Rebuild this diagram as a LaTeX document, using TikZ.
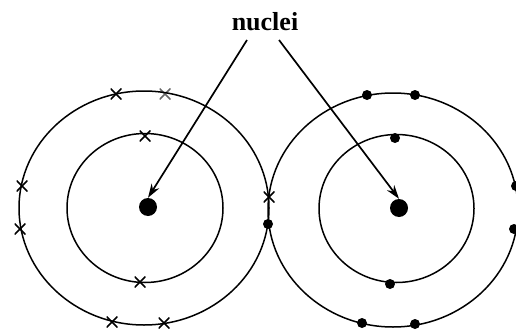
\documentclass[tikz,border=0pt]{standalone}
\usepackage{fontspec}
\setmainfont{Liberation Serif}
\usetikzlibrary{arrows.meta}
\tikzset{
  orbit/.style={draw, line width=1.5pt},
  nucleus/.style={circle, fill=black, inner sep=0pt, minimum size=18pt},
  edot/.style={circle, fill=black, inner sep=0pt, minimum size=10pt},
  ecross/.style={draw=none, inner sep=0pt, minimum size=11pt, path picture={
     \draw[line width=1.7pt] (path picture bounding box.south west) -- (path picture bounding box.north east)
       (path picture bounding box.north west) -- (path picture bounding box.south east);}},
  pointer/.style={line width=1.7pt, -{Stealth[length=14pt,width=9pt]}}
}
\begin{document}
\begin{tikzpicture}[x=1pt,y=-1pt]
\useasboundingbox (0,0) rectangle (516,329);
% orbits
\draw[orbit] (144,208) ellipse [x radius=125, y radius=117];
\draw[orbit] (145,208) ellipse [x radius=78, y radius=74.5];
\draw[orbit] (393,210) ellipse [x radius=125, y radius=117];
\draw[orbit] (396.5,208.5) ellipse [x radius=77.5, y radius=74];
% nuclei
\node[nucleus] (nl) at (148,207) {};
\node[nucleus] (nr) at (399,208) {};
% electrons left (crosses)
\node[ecross] (c1) at (116,94) {};
\node[ecross, opacity=0.6] (c2) at (165,94) {};
\node[ecross] (c3) at (22,186) {};
\node[ecross] (c4) at (20,229) {};
\node[ecross] (c5) at (112,322) {};
\node[ecross] (c6) at (164,323) {};
\node[ecross] (c7) at (269,197) {};
\node[ecross] (c8) at (145,136) {};
\node[ecross] (c9) at (140,282) {};
% electrons right (dots)
\node[edot] (d1) at (367,95) {};
\node[edot] (d2) at (415,95) {};
\node[edot] (d3) at (516,186) {};
\node[edot] (d4) at (514,229) {};
\node[edot] (d5) at (362,323) {};
\node[edot] (d6) at (415,324) {};
\node[edot] (d7) at (268,224) {};
\node[edot] (d8) at (395,138) {};
\node[edot] (d9) at (390,284) {};
% label
\node[font=\bfseries\fontsize{26}{30}\selectfont, inner sep=0pt] (lab) at (265,22) {nuclei};
\coordinate (al) at (247,40);
\coordinate (ar) at (279,40);
\draw[pointer] (al) -- (nl.north);
\draw[pointer] (ar) -- (nr.north);
\end{tikzpicture}
\end{document}
